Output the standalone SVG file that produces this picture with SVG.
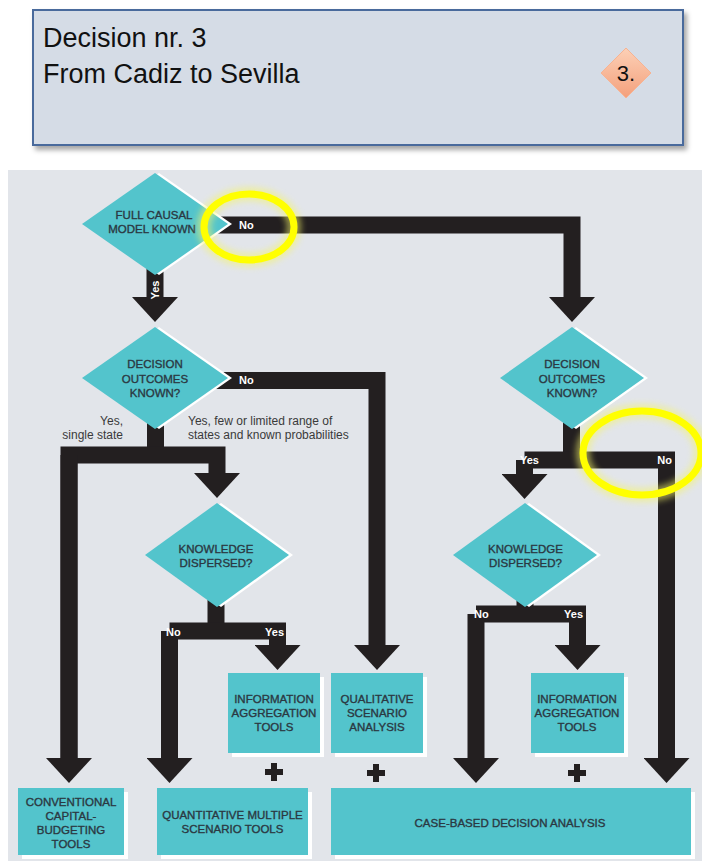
<svg xmlns="http://www.w3.org/2000/svg" width="702" height="861" viewBox="0 0 702 861">
<style>
.node{fill:#53c4cc}
.shade{fill:#ffffff}
.nt{font-family:"Liberation Sans",Arial,sans-serif;font-size:11.5px;fill:#2b3842;stroke:#2b3842;stroke-width:0.35;text-anchor:middle}
.lab{font-family:"Liberation Sans",Arial,sans-serif;font-size:12px;fill:#3a3a3a}
.wl{font-family:"Liberation Sans",Arial,sans-serif;font-size:11px;font-weight:bold;fill:#ffffff}
.bar{fill:none;stroke:#231f20;stroke-width:17;stroke-linejoin:miter;stroke-linecap:butt}
.hl{fill:none;stroke:#ffff00;stroke-width:7}
.glow{fill:none;stroke:#f5f56a;stroke-width:14;opacity:0.55}
</style>
<defs>
<filter id="hdrShadow" x="-5%" y="-10%" width="115%" height="130%">
<feDropShadow dx="3" dy="4" stdDeviation="2.5" flood-color="#000" flood-opacity="0.35"/>
</filter>
<filter id="blur" x="-30%" y="-30%" width="160%" height="160%">
<feGaussianBlur stdDeviation="3"/>
</filter>
<linearGradient id="og" x1="0" y1="0" x2="0" y2="1">
<stop offset="0" stop-color="#fcd0b6"/>
<stop offset="1" stop-color="#f4a07c"/>
</linearGradient>
<marker id="ah" markerUnits="userSpaceOnUse" viewBox="0 0 25 46" refX="0" refY="23" markerWidth="25" markerHeight="46" orient="auto">
<path d="M0,0 L25,23 L0,46 z" fill="#231f20"/>
</marker>
</defs>

<rect width="702" height="861" fill="#ffffff"/>

<g id="header">
<rect x="33" y="10" width="650" height="135" fill="#d5dce6" stroke="#4a6a9c" stroke-width="2" filter="url(#hdrShadow)"/>
<text x="43" y="47" font-family="'Liberation Sans',Arial,sans-serif" font-size="27" fill="#111">Decision nr. 3</text>
<text x="43" y="83" font-family="'Liberation Sans',Arial,sans-serif" font-size="27" fill="#111">From Cadiz to Sevilla</text>
<polygon points="626,48 651,73 626,98 601,73" fill="url(#og)" stroke="#f6b393" stroke-width="1"/>
<text x="626" y="81" text-anchor="middle" font-family="'Liberation Sans',Arial,sans-serif" font-size="22" fill="#111">3.</text>
</g>

<rect id="panel" x="8" y="170" width="694" height="691" fill="#e2e5ea"/>

<g id="connectors">
<path class="bar" d="M155,268 V297" marker-end="url(#ah)"/>
<path class="bar" d="M215,225 H572 V297" stroke-width="18" marker-end="url(#ah)"/>
<path class="bar" d="M215,380.5 H377 V645" marker-end="url(#ah)"/>
<path class="bar" d="M155.5,420 V455"/>
<path class="bar" d="M69,758 V455 H217 V473" marker-end="url(#ah)"/>
<path class="bar" d="M69,455 V758" marker-end="url(#ah)"/>
<path class="bar" d="M216,600 V631"/>
<path class="bar" d="M169.5,631 H277.5 V645" marker-end="url(#ah)"/>
<path class="bar" d="M169.5,631 V758" marker-end="url(#ah)"/>
<path class="bar" d="M571.5,420 V460"/>
<path class="bar" d="M524.5,460 H666.5 V758" marker-end="url(#ah)"/>
<path class="bar" d="M524.5,460 V474" marker-end="url(#ah)"/>
<path class="bar" d="M525,600 V614"/>
<path class="bar" d="M476,614 H577.5 V645" marker-end="url(#ah)"/>
<path class="bar" d="M476,614 V758" marker-end="url(#ah)"/>
<text class="wl" transform="translate(159,290) rotate(-90)" text-anchor="middle">Yes</text>
<text class="wl" x="239" y="229">No</text>
<text class="wl" x="239" y="384">No</text>
<text class="wl" x="166" y="636">No</text>
<text class="wl" x="284" y="636" text-anchor="end">Yes</text>
<text class="wl" x="520" y="464">Yes</text>
<text class="wl" x="672" y="464" text-anchor="end">No</text>
<text class="wl" x="474" y="618">No</text>
<text class="wl" x="583" y="618" text-anchor="end">Yes</text>
<text class="lab" x="123" y="425" text-anchor="end">Yes,</text>
<text class="lab" x="123" y="439" text-anchor="end">single state</text>
<text class="lab" x="188" y="425">Yes, few or limited range of</text>
<text class="lab" x="188" y="439">states and known probabilities</text>
</g>

<g id="d1">
<polygon class="shade" points="159,173 232,224 159,275 86,224"/>
<polygon class="node" points="155,173 228,224 155,275 82,224"/>
<text class="nt" x="154" y="219">FULL CAUSAL</text>
<text class="nt" x="152" y="233">MODEL KNOWN</text>
</g>

<g id="d2">
<polygon class="shade" points="159,327 232,378 159,429 86,378"/>
<polygon class="node" points="155,327 228,378 155,429 82,378"/>
<text class="nt" x="155" y="368">DECISION</text>
<text class="nt" x="155" y="383">OUTCOMES</text>
<text class="nt" x="155" y="397">KNOWN?</text>
</g>

<g id="d3">
<polygon class="shade" points="221,503 293,555 221,607 149,555"/>
<polygon class="node" points="217,503 289,555 217,607 145,555"/>
<text class="nt" x="216" y="553">KNOWLEDGE</text>
<text class="nt" x="216" y="567">DISPERSED?</text>
</g>

<g id="d4">
<polygon class="shade" points="576,327 648,378 576,429 504,378"/>
<polygon class="node" points="572,327 644,378 572,429 500,378"/>
<text class="nt" x="572" y="368">DECISION</text>
<text class="nt" x="572" y="383">OUTCOMES</text>
<text class="nt" x="572" y="397">KNOWN?</text>
</g>

<g id="d5">
<polygon class="shade" points="529,503 601,555 529,607 457,555"/>
<polygon class="node" points="525,503 597,555 525,607 453,555"/>
<text class="nt" x="525.5" y="553">KNOWLEDGE</text>
<text class="nt" x="525.5" y="567">DISPERSED?</text>
</g>

<g id="info1">
<rect class="shade" x="232" y="677" width="92" height="80"/>
<rect class="node" x="228" y="673" width="92" height="80"/>
<text class="nt" x="274" y="703">INFORMATION</text>
<text class="nt" x="274" y="717">AGGREGATION</text>
<text class="nt" x="274" y="731">TOOLS</text>
</g>

<g id="qual">
<rect class="shade" x="335" y="677" width="92" height="80"/>
<rect class="node" x="331" y="673" width="92" height="80"/>
<text class="nt" x="377" y="703">QUALITATIVE</text>
<text class="nt" x="377" y="717">SCENARIO</text>
<text class="nt" x="377" y="731">ANALYSIS</text>
</g>

<g id="info2">
<rect class="shade" x="535" y="677" width="93" height="80"/>
<rect class="node" x="531" y="673" width="93" height="80"/>
<text class="nt" x="577" y="703">INFORMATION</text>
<text class="nt" x="577" y="717">AGGREGATION</text>
<text class="nt" x="577" y="731">TOOLS</text>
</g>

<g id="conv">
<rect class="shade" x="22" y="792" width="106" height="67"/>
<rect class="node" x="18" y="788" width="106" height="67"/>
<text class="nt" x="71" y="806">CONVENTIONAL</text>
<text class="nt" x="71" y="820">CAPITAL-</text>
<text class="nt" x="71" y="834">BUDGETING</text>
<text class="nt" x="71" y="848">TOOLS</text>
</g>

<g id="quant">
<rect class="shade" x="161" y="792" width="151" height="67"/>
<rect class="node" x="157" y="788" width="151" height="67"/>
<text class="nt" x="232.5" y="819">QUANTITATIVE MULTIPLE</text>
<text class="nt" x="232.5" y="833">SCENARIO TOOLS</text>
</g>

<g id="case">
<rect class="shade" x="335" y="792" width="360" height="67"/>
<rect class="node" x="331" y="788" width="360" height="67"/>
<text class="nt" x="510" y="827">CASE-BASED DECISION ANALYSIS</text>
</g>

<g id="plus" fill="#231f20">
<rect x="265" y="769" width="18" height="6"/><rect x="271" y="763" width="6" height="18"/>
<rect x="367" y="770" width="18" height="6"/><rect x="373" y="764" width="6" height="18"/>
<rect x="568" y="770" width="18" height="6"/><rect x="574" y="764" width="6" height="18"/>
</g>

<g id="highlights">
<ellipse class="glow" cx="249" cy="227" rx="45" ry="33" filter="url(#blur)"/>
<ellipse class="hl" cx="249" cy="227" rx="45" ry="33"/>
<ellipse class="glow" cx="642" cy="453" rx="59" ry="42" filter="url(#blur)"/>
<ellipse class="hl" cx="642" cy="453" rx="59" ry="42"/>
</g>
</svg>
